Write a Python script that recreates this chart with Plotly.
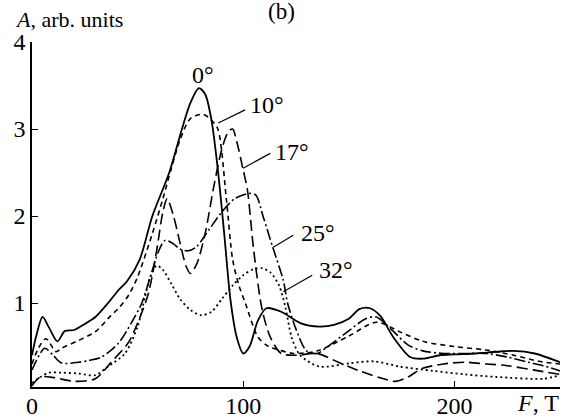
import plotly.graph_objects as go

# ---- data ----
x_0 = [0, 2, 5, 8, 12, 15.6, 20, 25, 30, 36, 41, 45, 51, 57, 65, 71, 75, 79, 82, 85, 88, 91, 94, 97, 100,
       103, 107, 111, 118, 127, 136, 143, 150, 155, 160, 165, 171, 179, 185, 193, 200, 210, 220, 228, 238, 250]
y_0 = [0.40, 0.62, 0.84, 0.72, 0.56, 0.68, 0.69, 0.76, 0.84, 1.0, 1.15, 1.25, 1.5, 2.0, 2.5, 3.0, 3.3, 3.47, 3.4, 3.1, 2.53, 1.8, 1.03, 0.6, 0.42,
       0.5, 0.8, 0.94, 0.9, 0.77, 0.73, 0.75, 0.82, 0.93, 0.94, 0.85, 0.61, 0.38, 0.36, 0.40, 0.41, 0.42, 0.44, 0.45, 0.42, 0.32]

x_10 = [0, 3, 6.6, 11.4, 14, 22, 30, 37.5, 41, 46, 50, 57, 62, 66, 70, 75, 81, 85, 88, 92, 95, 98, 101, 107, 112, 117, 124,
        135, 150, 163, 175, 185, 200, 215, 228, 240, 250]
y_10 = [0.30, 0.48, 0.59, 0.44, 0.48, 0.57, 0.67, 0.86, 0.94, 1.1, 1.3, 1.8, 2.2, 2.55, 2.87, 3.12, 3.17, 3.1, 3.0, 2.2, 1.5, 1.2, 1.0, 0.61, 0.5, 0.46, 0.42,
        0.45, 0.62, 0.78, 0.66, 0.56, 0.5, 0.46, 0.40, 0.33, 0.30]

x_17 = [0, 4, 11, 20, 30, 37.5, 45.5, 50, 55, 59, 62, 64, 67, 70, 73, 75, 78, 82, 86, 90, 93, 95, 97, 100, 102, 105, 109,
        113, 118, 125, 135, 145, 155, 165, 172, 178, 185, 195, 205, 215, 225, 240, 250]
y_17 = [0.05, 0.15, 0.14, 0.10, 0.13, 0.32, 0.54, 0.77, 1.1, 1.6, 2.05, 2.2, 2.0, 1.7, 1.42, 1.34, 1.45, 1.8, 2.33, 2.78, 2.97, 3.0, 2.85, 2.53, 2.3, 1.6, 0.92,
        0.6, 0.42, 0.40, 0.42, 0.32, 0.22, 0.14, 0.10, 0.15, 0.25, 0.30, 0.32, 0.30, 0.28, 0.22, 0.18]

x_25 = [0, 6, 10, 14, 22, 27, 33, 41, 47, 52, 56, 60, 63, 67, 70, 74, 78, 84, 90, 96, 103, 106, 109.5, 114, 119, 121, 125, 130,
        135, 140, 150, 158, 163, 170, 178, 185, 195, 205, 215, 225, 235, 242, 250]
y_25 = [0.23, 0.48, 0.40, 0.31, 0.32, 0.34, 0.38, 0.54, 0.77, 1.0, 1.3, 1.6, 1.72, 1.68, 1.62, 1.6, 1.65, 1.85, 2.05, 2.2, 2.26, 2.24, 1.99, 1.64, 1.26, 1.0, 0.7, 0.45,
        0.42, 0.5, 0.68, 0.82, 0.84, 0.7, 0.52, 0.45, 0.42, 0.42, 0.42, 0.38, 0.32, 0.28, 0.22]

x_32 = [0, 4, 8, 14, 22, 30, 36, 44, 50, 53.5, 56, 59, 62, 66, 70, 75, 80, 85, 90, 95, 100, 105, 109, 113, 117, 120, 123, 127,
        136, 151, 162, 174, 190, 205, 220, 242, 250]
y_32 = [0.08, 0.15, 0.20, 0.20, 0.19, 0.17, 0.27, 0.42, 0.73, 1.07, 1.3, 1.43, 1.38, 1.22, 1.05, 0.92, 0.86, 0.9, 1.05, 1.2, 1.32, 1.39, 1.40, 1.35, 1.2, 0.95, 0.6, 0.40,
        0.27, 0.31, 0.33, 0.27, 0.22, 0.18, 0.15, 0.13, 0.17]

x_ticks = [0, 100, 200]
y_ticks = [1, 2, 3, 4]

angle_labels = ["0°", "10°", "17°", "25°", "32°"]
label_x = [81, 111.4, 123, 135.5, 144]
label_y = [3.62, 3.28, 2.74, 1.80, 1.38]
# leader lines: (x0, y0, x1, y1)
leaders = [None,
           (88.2, 3.07, 100.9, 3.22),
           (100.0, 2.55, 112.8, 2.72),
           (114.2, 1.64, 123.7, 1.78),
           (119.0, 1.13, 132.7, 1.32)]

FONT = "Liberation Serif"

series = [
    (x_0, y_0, "solid", 1.8),
    (x_10, y_10, "5px,4px", 1.6),
    (x_17, y_17, "11px,5px", 1.6),
    (x_25, y_25, "11px,3px,2px,3px", 1.6),
    (x_32, y_32, "2px,3px", 1.8),
]

fig = go.Figure()
for (xs, ys, dash, w), name in zip(series, angle_labels):
    fig.add_trace(go.Scatter(x=xs, y=ys, mode="lines", name=name,
                             line=dict(color="black", width=w, dash=dash, shape="spline", smoothing=0.8),
                             showlegend=False, hoverinfo="skip"))

for i, t in enumerate(angle_labels):
    fig.add_annotation(x=label_x[i], y=label_y[i], text=t, showarrow=False,
                       xref="x", yref="y", xanchor="center", yanchor="middle",
                       font=dict(family=FONT, size=24, color="black"))
    if leaders[i] is not None:
        x0, y0, x1, y1 = leaders[i]
        fig.add_shape(type="line", x0=x0, y0=y0, x1=x1, y1=y1, xref="x", yref="y",
                      line=dict(color="black", width=1.2))

fig.add_annotation(x=-0.036, y=1.064, xref="paper", yref="paper", xanchor="left", yanchor="middle",
                   text="<i>A</i>, arb. units", showarrow=False, font=dict(family=FONT, size=22, color="black"))
fig.add_annotation(x=0.4716, y=1.087, xref="paper", yref="paper", xanchor="center", yanchor="middle",
                   text="(b)", showarrow=False, font=dict(family=FONT, size=23, color="black"))
fig.add_annotation(x=0.958, y=-0.046, xref="paper", yref="paper", xanchor="center", yanchor="middle",
                   text="<i>F</i>, T", showarrow=False, font=dict(family=FONT, size=24, color="black"))

fig.update_xaxes(range=[0, 250], tickvals=x_ticks, ticks="inside", ticklen=6, tickwidth=1.2, tickcolor="black",
                 showline=True, linecolor="black", linewidth=1.5, showgrid=False, zeroline=False, automargin=False,
                 ticklabelstandoff=-4,
                 tickfont=dict(family=FONT, size=24, color="black"))
fig.update_yaxes(range=[0.035, 4.0], tickvals=y_ticks, ticks="inside", ticklen=6, tickwidth=1.2, tickcolor="black",
                 showline=True, linecolor="black", linewidth=1.5, showgrid=False, zeroline=False, automargin=False,
                 tickfont=dict(family=FONT, size=24, color="black"))

fig.update_layout(width=569, height=418, margin=dict(l=32, r=9, t=42, b=31),
                  plot_bgcolor="white", paper_bgcolor="white", template="none")

fig.write_html("out.html", config={"displayModeBar": False},
               post_script="document.body.style.margin='0';document.body.style.padding='0';")
